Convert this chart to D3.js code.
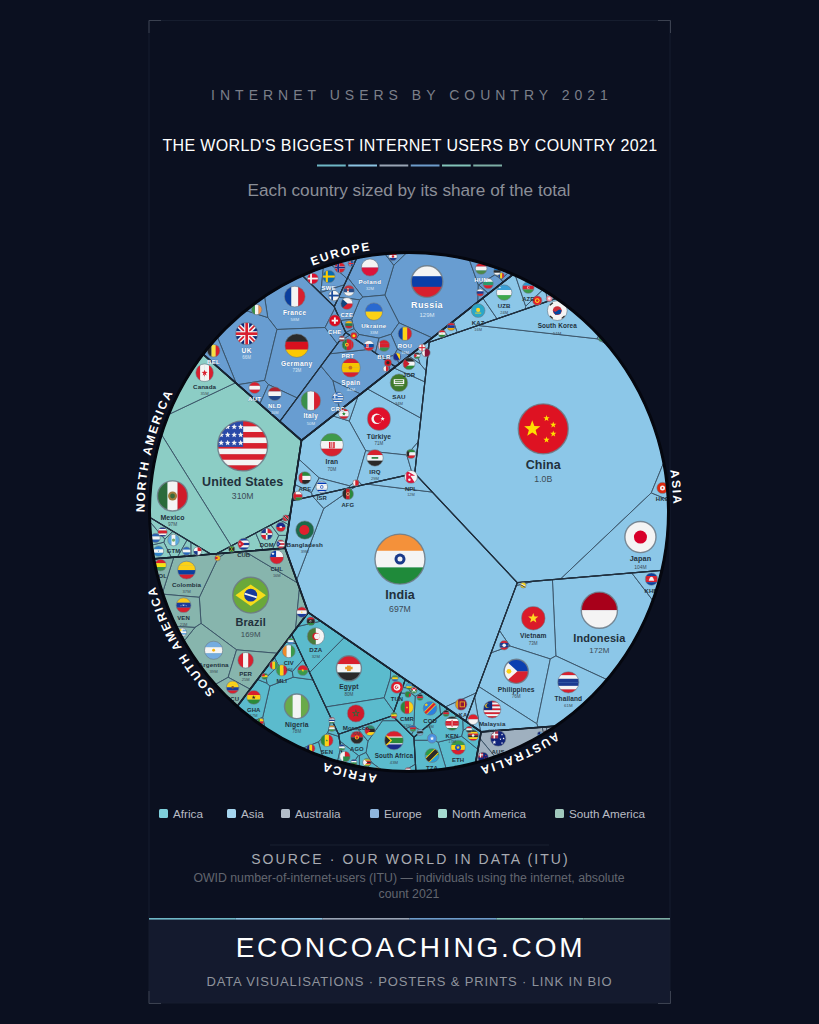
<!DOCTYPE html>
<html><head><meta charset="utf-8">
<script src="https://cdn.jsdelivr.net/npm/d3@7/dist/d3.min.js"></script>
<style>html,body{margin:0;padding:0;background:#0b1020}svg{display:block}text{font-family:"Liberation Sans",Arial,sans-serif}</style>
</head><body><svg id="c" width="819" height="1024"></svg>
<script>
// ---------- DATA ----------
const continents = ['Africa','Asia','Australia','Europe','North America','South America'];
const continentFills = ['#5bbbcd','#8cc7e8','#9fb0bf','#689dd1','#8ccdc5','#87b5ad'];
const legendFills = ['#7fd0dc','#a6d6ef','#b3bdc9','#8fb6de','#a5dad0','#a0c8bc'];
const ruleColors = ['#6fb7c6','#8cc3e2','#9aa5b5','#6e9ccb','#83c4b9','#7eaea5'];

const africaLabels = ['Nigeria','Egypt','DZA','Morocco','South Africa','ETH','TZA','KEN','COD','CMR','TUN','GHA','CIV','MLI','','SEN','AGO','','','','','','','','','','','','','','','','','','','','','','','','','','',''];
const africaValues = [78,80,32,32,43,20,18,17,16,13,9,17,12,7,5,10,11,6,4,3,5,5,3,3,1,3,1,1,1,1,1,1,1,1,1,1,1,1,1,1,1,1,1,1];
const africaFlags  = ['ng','eg','dz','ma','za','et','tz','ke','cd','cm','tn','gh','ci','ml','bf','sn','ao','ug','so','ly','mz','mg','zw','td','ne','gn','sl','tg','bj','ga','rw','bi','zm','mw','cg','na','bw','ss','sd','gm','cf','km','lr','ls'];
const africaGroups = [0,1,1,1,3,4,4,4,2,2,1,0,0,0,0,0,3,4,4,1,3,3,3,0,0,0,0,0,0,1,2,2,2,2,3,2,2,2,4,0,3,3,3,0];
const africaSeeds  = [[297,705],[349,667],[316,635],[356,712],[394,739],[458,746],[432,754],[452,722],[430,707],[407,706],[397,686],[254,696],[289,650],[282,669],[303,669],[327,739],[357,736],[473,734],[432,737],[311,620],[370,729],[345,755],[367,761],[311,747],[332,727],[274,664],[291,640],[265,675],[261,720],[395,677],[409,685],[414,689],[408,693],[420,696],[394,714],[413,727],[420,731],[446,712],[469,728],[332,719],[354,761],[377,769],[408,769],[342,746]];
const africaGroupSeeds = [[73.5,799.5],[345,672],[420.7,698.9],[371.3,748.3],[457.9,743.4]];

const asiaLabels = ['China','India','Indonesia','Japan','Vietnam','Philippines','Thailand','Malaysia','','KHM','HKG','','LKA','','Bangladesh','Türkiye','Iran','IRQ','SAU','JOR','ARE','ISR','','AFG','NPL','','','','KAZ','UZB','AZE','','','South Korea','','','','','',''];
const asiaValues = [1030,697,172,104,73,76,61,33,4,10,7,0.5,8,5,39,71,70,29,34,9,10,8,4,7,12,4,5,1,16,24,8,4,1,51,2,2.5,3,2,1,0.5];
const asiaFlags  = ['cn','in','id','jp','vn','ph','th','my','la','kh','hk','bn','lk','sg','bd','tr','ir','iq','sa','jo','ae','il','om','af','np','kw','lb','bh','kz','uz','az','kg','mn','kr','tj','am','qa','ge','ps','mo'];
const asiaGroups = [2,1,3,2,3,3,3,3,3,3,2,3,1,3,1,0,0,0,0,0,0,0,0,1,1,0,0,0,4,4,4,4,4,2,4,4,0,0,0,2];
const asiaSeeds  = [[543,428],[400,558],[599,609],[640,536],[533,617],[516,670],[568,681],[492,708],[504,644],[651,578],[662,487],[523,584],[461,703],[473,718],[305,529],[379,418],[332,444],[375,457],[399,382],[409,363],[305,477],[322,486],[298,495],[348,493],[411,476],[411,453],[344,413],[356,482],[478,310],[504,292],[528,287],[537,300],[549,298],[557,310],[442,333],[451,326],[426,352],[422,347],[417,355],[601,338]];
const asiaGroupSeeds = [[361.2,408],[399.6,580.5],[560,430],[578.5,647.3],[494.6,241]];

const australiaLabels = ['AUS','','',''];
const australiaValues = [24,5,0.5,0.5];
const australiaFlags  = ['au','nz','fj','pg'];
const australiaGroups = [0,0,0,0];
const australiaSeeds  = [[498,737],[483,756],[540,733],[546,732]];
const australiaGroupSeeds = [[498,745]];

const europeLabels = ['Russia','Poland','France','UK','Germany','Italy','Spain','Ukraine','ROU','BEL','','AUT','NLD','CHE','','SWE','','','','CZE','','PRT','','BLR','GRC','HUN','','','','','','','','','','',''];
const europeValues = [129,32,58,66,73,50,44,33,16,11,5,8,16,8,6,10,5,5,6,9,2.5,8,5,8,8,8,5,0.4,3,2,1,2,0.6,1.5,2,2.5,0.6];
const europeFlags  = ['ru','pl','fr','gb','de','it','es','ua','ro','be','ie','at','nl','ch','dk','se','no','fi','rs','cz','lt','pt','sk','by','gr','hu','bg','is','hr','si','md','ee','lv','mk','al','ba','mt'];
const europeGroups = [2,2,0,0,0,3,3,2,2,0,0,0,0,0,1,1,1,1,2,2,2,3,2,2,3,2,2,1,2,2,2,2,3,2,2,2,3];
const europeSeeds  = [[427,281],[370,267],[295,296],[247,333],[297,345],[311,400],[351,367],[374,311],[405,333],[214,350],[257,309],[255,387],[275,393],[335,320],[313,278],[329,276],[340,267],[334,295],[349,290],[347,303],[349,324],[348,344],[369,345],[384,345],[338,397],[481,268],[488,283],[351,263],[393,256],[480,292],[501,275],[497,271],[342,338],[354,335],[388,362],[397,356],[386,368]];
const europeGroupSeeds = [[265,345],[351.8,256.5],[406.1,281.7],[329.2,392.6]];

const northAmericaLabels = ['United States','Mexico','Canada','CUB','DOM','','','','GTM','','','','','',''];
const northAmericaValues = [310,97,35,8,8,4,3,4,8,5,4,3,3,1,1];
const northAmericaFlags  = ['us','mx','ca','cu','do','ht','pr','cr','gt','hn','sv','ni','pa','jm','tt'];
const northAmericaGroups = [0,0,0,2,2,2,2,1,1,1,1,1,1,2,2];
const northAmericaSeeds  = [[243,445],[173,495],[205,372],[244,543],[267,533],[281,526],[281,543],[163,531],[174,539],[159,550],[156,537],[187,550],[198,550],[232,548],[286,517]];
const northAmericaGroupSeeds = [[215,450],[163.6,535.7],[261.7,538.5]];

const southAmericaLabels = ['Brazil','Colombia','VEN','Argentina','PER','CHL','ECU','BOL','','',''];
const southAmericaValues = [169,37,21,39,25,16,11,8,5,3,0.5];
const southAmericaFlags  = ['br','co','ve','ar','pe','cl','ec','bo','py','uy','gy'];
const southAmericaGroups = [0,0,0,0,0,0,0,0,0,0,0];
const southAmericaSeeds  = [[251,594],[187,569],[184,604],[214,649],[246,659],[277,556],[233,686],[161,564],[302,611],[183,631],[218,557]];
const southAmericaGroupSeeds = [[240,620]];

const flagSets = [
 [africaLabels,africaValues,africaFlags,africaSeeds,africaGroups,africaGroupSeeds],
 [asiaLabels,asiaValues,asiaFlags,asiaSeeds,asiaGroups,asiaGroupSeeds],
 [australiaLabels,australiaValues,australiaFlags,australiaSeeds,australiaGroups,australiaGroupSeeds],
 [europeLabels,europeValues,europeFlags,europeSeeds,europeGroups,europeGroupSeeds],
 [northAmericaLabels,northAmericaValues,northAmericaFlags,northAmericaSeeds,northAmericaGroups,northAmericaGroupSeeds],
 [southAmericaLabels,southAmericaValues,southAmericaFlags,southAmericaSeeds,southAmericaGroups,southAmericaGroupSeeds]];

// Layout seeds of the continent level (power-diagram sites)
const continentSeeds = [[332,639],[428,500],[440,658],[322,365],[230,470],[238,568]];

// ---------- FLAGS ----------
const W='#f4f4f4',R='#d8202e',G='#3a8f4a',B='#0b3f9e',Y='#fcd116',K='#2a2a2a';
const flagStripes = {
 ru:[`h`,W,'#0a3fa8',R],pl:['h',W,'#dc143c'],fr:['v',B,W,R],gb:['h','#0a2a7a'],de:['h',K,'#d8101e','#fdc800'],it:['v',G,W,R],es:['h',R,'#f5c400','#f5c400',R],ua:['h','#2a6ad0',Y],ro:['v',B,Y,R],be:['v',K,'#fae042',R],ie:['v',G,W,'#f0954a'],at:['h',R,W,R],nl:['h','#b0222e',W,'#21468b'],ch:['h','#dc0a20'],dk:['h','#dc102e'],se:['h','#0a6ab0'],no:['h',R],fi:['h',W],rs:['h','#c6303c','#2a4f8a',W],cz:['h',W,R],lt:['h','#fdb913','#2a7a4a','#c1272d'],pt:['v','#2a7a3a','#2a7a3a',R,R,R],sk:['h',W,'#0b4ea2',R],by:['h',R,R,G],gr:['h','#2a6ac0',W,'#2a6ac0',W,'#2a6ac0',W,'#2a6ac0',W,'#2a6ac0'],hu:['h',R,W,'#4a8a4a'],bg:['h',W,'#2a9a6a',R],is:['h','#0a4aa0'],hr:['h',R,W,'#1a3a90'],si:['h',W,'#1a3a90',R],md:['v','#1a4aa0',Y,R],ee:['h','#0a72ce',K,W],lv:['h','#9e3039',W,'#9e3039'],mk:['h',R],al:['h','#d8101e'],ba:['h','#1a2a90'],mt:['v',W,R],
 cn:['h','#de1222'],in:['h','#f4913a',W,'#1f8a3a'],id:['h','#a8001a',W],jp:['h',W],vn:['h','#da1a2a'],ph:['h','#0b3fb0',R],th:['h',R,W,'#1a3a90','#1a3a90',W,R],my:['h',R,W,R,W,R,W,R,W,R],la:['h',R,'#1a3a90','#1a3a90',R],kh:['h','#0b3f9e',R,R,'#0b3f9e'],hk:['h','#de2910'],bn:['h','#f7d51d'],lk:['v','#e09a1a','#8d153a','#8d153a','#8d153a'],sg:['h','#e0202e',W],bd:['h','#1c6a4a'],tr:['h','#e0102a'],ir:['h','#3f9a4a',W,R],iq:['h',R,W,K],sa:['h','#3f7a2a'],jo:['h',K,W,'#2a8a3a'],ae:['h','#2a8a3a',W,K],il:['h',W,'#0038b8',W,W,W,W,'#0038b8',W],om:['h',W,R,'#2a8a3a'],af:['v',K,'#c8202a','#2a8a3a'],np:['h',W],kw:['h','#2a8a3a',W,R],lb:['h',R,W,W,R],bh:['h',R],kz:['h','#2aa7c8'],uz:['h','#3aa0d8',W,'#3fa84a'],az:['h','#2a9ad0',R,'#3a9a4a'],kg:['h','#e0202a'],mn:['h','#f08a9a'],kr:['h',W],tj:['h',R,W,'#2a8a3a'],am:['h',R,'#1a3aa0','#f2a800'],qa:['h','#8a1538'],ge:['h',W],ps:['h',K,W,G],mo:['h','#3a8a5a'],
 au:['h','#10237a'],nz:['h','#10237a'],fj:['h','#6aa8d8'],pg:['h',R,K],
 us:['h',R,W,R,W,R,W,R,W,R],mx:['v','#2a6a3a',W,'#d01a2a'],ca:['v',R,W,W,R],cu:['h','#1a3a9a',W,'#1a3a9a',W,'#1a3a9a'],do:['h','#1a3a8a'],ht:['h','#1a2a8a',R],pr:['h',R,W,R,W,R],cr:['h','#1a2a8a',W,R,R,W,'#1a2a8a'],gt:['v','#5aa8e0',W,'#5aa8e0'],hn:['h','#2a80c8',W,'#2a80c8'],sv:['h','#2a60b0',W,'#2a60b0'],ni:['h','#2a68c0',W,'#2a68c0'],pa:['h',W],jm:['h','#2a8a3a'],tt:['h',R],
 br:['h','#6aa83a'],co:['h','#fcd116','#fcd116','#0b3f9e',R],ve:['h','#f7c81a','#1a3a9a',R],ar:['h','#74acdf',W,'#74acdf'],pe:['v',R,W,R],cl:['h',W,R],ec:['h','#fcd116','#fcd116','#1a3a9a',R],bo:['h',R,'#f7e214',G],py:['h',R,W,'#1a3a9a'],uy:['h',W,'#6aa8e0',W,'#6aa8e0',W],gy:['h','#e8a020'],
 ng:['v','#6aaa4a',W,'#6aaa4a'],eg:['h','#d8202e',W,K],dz:['v','#4a7a3a',W],ma:['h','#d01a2a'],za:['h','#d8202e','#2a8a3a','#1a2a8a'],et:['h','#3a9a4a','#f7d618',R],tz:['h','#2a9a4a','#2aa0d8'],ke:['h',K,W,R,R,W,'#2a7a3a'],cd:['h','#2a80e0'],cm:['v','#2a8a3a',R,'#fcd116'],tn:['h','#e01a2a'],gh:['h',R,'#fcd116','#2a8a3a'],ci:['v','#f08a2a',W,'#3a9a4a'],ml:['v','#3a9a4a','#fcd116',R],bf:['h',R,'#3a9a4a'],sn:['v','#2a8a3a','#fcd116',R],ao:['h',R,K],ug:['h',K,'#fcd116',R,K,'#fcd116',R],so:['h','#4a90e0'],ly:['h',K],mz:['h','#2a8a6a',K,'#fcd116'],mg:['v',W,R],zw:['h','#3a8a3a','#fcd116',R,K,R,'#fcd116','#3a8a3a'],td:['v','#1a2a8a','#fcd116',R],ne:['h','#e88a2a',W,'#3a9a4a'],gn:['v',R,'#fcd116','#3a9a4a'],sl:['h','#3aaa4a',W,'#3a80d0'],tg:['h','#2a8a3a','#fcd116','#2a8a3a'],bj:['h','#fcd116',R],ga:['h','#3a9a4a','#fcd116','#2a60b0'],rw:['h','#3aa0d8','#3aa0d8','#fcd116','#2a8a3a'],bi:['h',R,'#3a9a4a'],zm:['h','#2a8a3a'],mw:['h',K,R,'#2a8a3a'],cg:['h','#3a9a4a','#fcd116',R],na:['h','#2a60b0',R,'#3a9a4a'],bw:['h','#7ab0d8',K,'#7ab0d8'],ss:['h',K,R,'#2a8a3a'],sd:['h',R,W,K],gm:['h',R,W,'#1a3a90',W,'#3a8a3a'],cf:['h','#1a3a90',W,G,Y],km:['h',Y,W,R,'#1a3a90'],lr:['h',R,W,R,W,R],ls:['h','#1a3a90',W,G]
};
const nordic=c=>[['r',-.5,-1,.34,2,c],['r',-1,-.17,2,.34,c]];
const flagEmblems = {
 gb:[['l',-1,-1,1,1,.42,W],['l',-1,1,1,-1,.42,W],['l',-1,-1,1,1,.16,R],['l',-1,1,1,-1,.16,R],['r',-.22,-1,.44,2,W],['r',-1,-.22,2,.44,W],['r',-.12,-1,.24,2,R],['r',-1,-.12,2,.24,R]],
 es:[['c',-.05,0,.2,'#c9701a']],ch:[['r',-.16,-.55,.32,1.1,W],['r',-.55,-.16,1.1,.32,W]],dk:nordic(W),se:nordic('#fecc00'),no:[['r',-.55,-1,.44,2,W],['r',-1,-.22,2,.44,W],...nordic('#1a2a80')],fi:nordic('#1a4a9a'),is:[['r',-.55,-1,.44,2,W],['r',-1,-.22,2,.44,W],...nordic(R)],
 rs:[['r',-.35,-.4,.36,.8,'#e8e0d0'],['c',-.17,-.1,.2,'#c6303c']],cz:[['p','-1,-1 .1,0 -1,1','#11457e']],pt:[['c',-.18,0,.32,'#f5d020'],['c',-.18,0,.16,R]],sk:[['r',-.55,-.4,.5,.8,W],['r',-.5,-.32,.4,.62,R],['r',-.34,-.26,.08,.45,W]],by:[['r',-1,-1,.32,2,W],['r',-.9,-1,.1,2,R]],gr:[['r',-1,-1,.95,1.1,'#2a6ac0'],['r',-.63,-1,.2,1.1,W],['r',-1,-.55,.95,.2,W]],mk:[['c',0,0,.45,Y]],al:[['c',0,0,.45,K]],ba:[['p','-.3,-1 .8,-1 .8,1',Y]],hr:[['c',0,0,.3,R]],
 cn:[['s',-.44,0,.34,'#ffde00'],['s',.13,-.42,.13,'#ffde00'],['s',.4,-.16,.13,'#ffde00'],['s',.4,.2,.13,'#ffde00'],['s',.13,.44,.13,'#ffde00']],
 in:[['c',0,0,.22,'#1a3a8a'],['c',0,0,.1,W]],jp:[['c',0,0,.42,'#d8002a']],vn:[['s',0,0,.45,'#ffd820']],ph:[['p','-1,-1 .1,0 -1,1',W],['c',-.6,0,.2,'#fcd116']],my:[['r',-1,-1,1,1.05,'#0b2a80'],['c',-.55,-.42,.26,'#fcd116'],['c',-.45,-.42,.22,'#0b2a80']],la:[['c',0,0,.38,W]],kh:[['p','-.45,.28 -.25,-.25 0,-.4 .25,-.25 .45,.28',W]],hk:[['c',0,0,.45,W],['c',0,0,.15,'#de2910']],bn:[['l',-1,-.5,1,.6,.4,W],['l',-1,-.2,1,.9,.3,K]],lk:[['r',-.25,-.5,.9,1,'#f2b01a'],['r',-.1,-.35,.6,.7,'#8d153a']],bd:[['c',-.05,0,.55,'#e0202e']],tr:[['c',-.2,0,.45,W],['c',-.08,0,.36,'#e0102a'],['s',.32,0,.2,W]],ir:[['r',-.25,-.25,.5,.55,R],['r',-.12,-.25,.24,.5,W],['r',-.04,-.25,.08,.5,R]],iq:[['r',-.4,-.1,.8,.2,'#2a7a3a']],sa:[['r',-.6,-.4,1.2,.55,W],['r',-.45,-.3,.9,.12,'#3f7a2a'],['r',-.45,-.1,.9,.1,'#3f7a2a'],['r',-.5,.3,1,.08,W]],jo:[['p','-1,-1 .1,0 -1,1','#c8202e']],ae:[['r',-1,-1,.6,2,R]],il:[['c',0,0,.28,'#0038b8'],['c',0,0,.17,W]],om:[['r',-1,-1,.55,2,R]],af:[['c',0,0,.3,'#f0e0a0'],['c',0,0,.2,'#8a3a2a']],np:[['p','-.75,-1 .65,-.2 -.1,-.2 .65,1 -.75,1','#dc143c'],['c',-.25,-.35,.15,W],['c',-.25,.45,.2,W]],kw:[['p','-1,-1 -.4,-.35 -.4,.35 -1,1',K]],lb:[['s',0,0,.4,'#2a8a3a']],bh:[['r',-1,-1,.8,2,W]],kz:[['c',0,-.1,.3,'#ffd820'],['r',-.45,.3,.9,.12,'#ffd820']],uz:[['c',-.55,-.65,.1,W]],az:[['c',.02,0,.22,W],['c',.08,0,.18,R]],kg:[['c',0,0,.5,'#ffd820'],['c',0,0,.28,'#e0202a']],mn:[['c',0,0,.4,W]],kr:[['c',0,0,.45,'#cd2e3a'],['p','-.45,0 -.2,.15 .2,-.1 .45,0 .3,.35 -.2,.42','#0047a0'],['l',-.75,-.55,-.45,-.8,.14,K],['l',.75,-.55,.45,-.8,.14,K],['l',-.75,.55,-.45,.8,.14,K],['l',.75,.55,.45,.8,.14,K]],qa:[['r',-1,-1,.7,2,W]],ge:[['r',-.15,-1,.3,2,R],['r',-1,-.15,2,.3,R]],tj:[['c',0,0,.14,Y]],ps:[['p','-1,-1 0,0 -1,1',R]],
 au:[['r',-1,-1,1,1,'#b0344a'],['r',-.6,-1,.2,1,W],['r',-1,-.6,1,.2,W],['s',-.5,.5,.28,W],['s',.5,-.5,.16,W],['s',.7,0,.16,W],['s',.3,.1,.14,W],['s',.5,.6,.16,W]],nz:[['r',-1,-1,1,1,'#b0344a'],['r',-.6,-1,.2,1,W],['r',-1,-.6,1,.2,W],['s',.5,-.4,.18,R],['s',.7,.1,.18,R],['s',.3,.1,.18,R],['s',.5,.6,.18,R]],fj:[['r',-1,-1,1,1,'#10237a']],pg:[['p','-1,-1 1,-1 1,1',K],['c',.3,-.3,.3,Y]],
 mx:[['c',0,0,.3,'#a07a3a'],['c',0,0,.16,'#3a6a3a']],ca:[['s',0,.02,.36,R],['r',-.04,.2,.08,.2,R]],cu:[['p','-1,-1 .1,0 -1,1',R],['s',-.65,0,.22,W]],do:[['r',0,-1,1,1,R],['r',-1,0,1,1,R],['r',-.15,-1,.3,2,W],['r',-1,-.15,2,.3,W],['c',0,0,.16,'#3a8a4a']],ht:[['r',-.25,-.18,.5,.36,W]],pr:[['p','-1,-1 0,0 -1,1','#1a3a9a'],['s',-.65,0,.2,W]],gt:[['c',0,0,.28,'#7aa86a']],hn:[['s',0,0,.18,'#2a80c8']],pa:[['r',0,-1,1,1,R],['r',-1,0,1,1,'#1a3a8a']],jm:[['l',-1,-1,1,1,.3,Y],['l',-1,1,1,-1,.3,Y],['p','-1,-1 0,0 -1,1',K],['p','1,-1 0,0 1,1',K]],tt:[['l',-1,-1,1,1,.55,W],['l',-1,-1,1,1,.36,K]],
 us:[['r',-1,-1,1.02,1.04,'#2a4aa8']],
 br:[['p','-.85,0 0,-.6 .85,0 0,.6','#f7dc1a'],['c',0,0,.36,'#1a3a9a'],['l',-.34,-.08,.34,.12,.1,W]],ve:[['c',0,0,.08,W],['c',-.35,.08,.06,W],['c',.35,.08,.06,W],['c',-.18,-.02,.06,W],['c',.18,-.02,.06,W]],ar:[['c',0,0,.16,'#f6b40e']],cl:[['r',-1,-1,.9,1,'#0a3fa8'],['s',-.55,-.5,.26,W]],ec:[['c',0,0,.22,'#8a5a2a']],py:[['c',0,0,.12,Y]],uy:[['r',-1,-1,1,1,W],['c',-.5,-.5,.28,'#fcd116']],gy:[['p','-1,-1 1,0 -1,1',Y],['p','-1,-.7 .4,0 -1,.7','#c8202e']],
 eg:[['r',-.15,-.22,.3,.44,'#e89a2a'],['r',-.3,-.12,.6,.2,'#e89a2a']],dz:[['c',.02,0,.42,'#d01a2a'],['c',.14,0,.33,W]],ma:[['s',0,0,.5,'#2a6a3a'],['s',0,0,.26,'#d01a2a']],za:[['r',-1,-.42,2,.12,W],['r',-1,.3,2,.12,W],['p','-1,-.8 -.2,0 -1,.8','#fcd116'],['p','-1,-.6 -.4,0 -1,.6',K]],et:[['c',0,0,.42,'#1a50c0'],['s',0,0,.3,'#fcd116']],tz:[['p','-1,1 -1,.4 .4,-1 1,-1 1,-.4 -.4,1','#fcd116'],['l',-1,1,1,-1,.6,K]],ke:[['p','0,-.55 .3,0 0,.55 -.3,0',R],['r',-.05,-.4,.1,.8,W]],cd:[['l',-1,1,1,-1,.55,'#fcd116'],['l',-1,1,1,-1,.35,R],['s',-.55,-.5,.3,'#fcd116']],cm:[['s',0,0,.22,'#fcd116']],tn:[['c',0,0,.55,W],['c',-.05,0,.3,'#e01a2a'],['c',.05,0,.24,W],['s',.1,0,.18,'#e01a2a']],gh:[['s',0,0,.3,K]],bf:[['s',0,0,.32,'#fcd116']],sn:[['s',0,0,.2,'#2a8a3a']],ao:[['c',0,0,.32,'#fcd116'],['c',0,0,.2,R]],ug:[['c',0,0,.24,W]],so:[['s',0,0,.5,W]],ly:[['r',-1,-1,2,.55,R],['r',-1,.45,2,.55,'#2a8a3a'],['c',-.06,0,.25,W],['c',.03,0,.2,K]],mz:[['p','-1,-1 .1,0 -1,1',R]],mg:[['r',-.33,0,1.33,1,'#2a8a4a']],zw:[['p','-1,-1 .1,0 -1,1',W]],tg:[['r',-1,-1,1,1,R]],bj:[['r',-1,-1,.7,2,'#2a8a3a']],bi:[['l',-1,-1,1,1,.25,W],['l',-1,1,1,-1,.25,W],['c',0,0,.35,W]],zm:[['r',.3,-.2,.7,1.2,R]],
};
// the US canton's stars
d3.range(3).forEach(i=>d3.range(4).forEach(j=>flagEmblems.us.push(['s',-.86+j*.26,-.76+i*.32,.12,W])));

// ---------- LAYOUT ----------
const cx=409, cy=512, Rad=259.5;
const sx=d3.scaleLinear([150,668],[cx-Rad,cx+Rad]), sy=d3.scaleLinear([252,770],[cy-Rad,cy+Rad]);
const svg=d3.select('#c');
const defs=svg.append('defs');
const disc=d3.range(180).map(i=>{const a=i/180*2*Math.PI;return [cx+Rad*Math.cos(a),cy+Rad*Math.sin(a)]});

function clip(poly,a,b,c){ const out=[]; const n=poly.length;
  for(let i=0;i<n;i++){ const p=poly[i],q=poly[(i+1)%n]; const dp=a*p[0]+b*p[1]-c, dq=a*q[0]+b*q[1]-c;
    if(dp<=0) out.push(p);
    if((dp<0&&dq>0)||(dp>0&&dq<0)){const t=dp/(dp-dq); out.push([p[0]+t*(q[0]-p[0]),p[1]+t*(q[1]-p[1])]);}
  } return out; }
function cells(sites,w,bound){ return sites.map((s,i)=>{ let poly=bound;
    for(let j=0;j<sites.length&&poly.length>2;j++){ if(j===i)continue; const t=sites[j];
      const a=2*(t[0]-s[0]),b=2*(t[1]-s[1]),c=t[0]*t[0]+t[1]*t[1]-s[0]*s[0]-s[1]*s[1]-w[j]+w[i];
      poly=clip(poly,a,b,c);}
    return poly.length>2?poly:[];});}
const area=p=>p.length>2?Math.abs(d3.polygonArea(p)):0;
function solve(sites,values,bound,iters){ if(sites.length===1) return [bound];
  const total=d3.sum(values),A=area(bound); const T=values.map(v=>v/total*A);
  const w=T.map(t=>t/Math.PI); let res;
  for(let k=0;k<iters;k++){ res=cells(sites,w,bound); res.forEach((p,i)=>{w[i]+=0.2*(T[i]-area(p));}); }
  return cells(sites,w,bound);}

const contTotals=flagSets.map(s=>d3.sum(s[1]));
const contSites=continentSeeds.map(([x,y])=>[sx(x),sy(y)]);
const contPolys=solve(contSites,contTotals,disc,800);

const flagR=d3.scaleLinear([0.4,5,10,33,60,80,100,129,170,310],[2.8,5.2,6.2,8.7,10.5,12.5,15.5,15.8,18,25]).clamp(true);
const nameFs=d3.scaleLinear([1,100,129,172,310],[5.8,7,9,11,12.5]).clamp(true);
const valFs=d3.scaleLinear([1,100,129,172,310],[3.8,4.8,6,8,8.7]).clamp(true);
const fmt=v=>v>=1000?(v/1000).toFixed(1)+'B':Math.round(v)+'M';

const items=[], groupPolys=[];
flagSets.forEach((set,ci)=>{ const [labels,values,flags,seeds,groups,groupSeeds]=set;
  const gTotals=groupSeeds.map((s,g)=>d3.sum(values.filter((v,i)=>groups[i]===g)));
  const gPolys=solve(groupSeeds.map(([x,y])=>[sx(x),sy(y)]),gTotals,contPolys[ci],1600);
  gPolys.forEach((gp,g)=>{ if(groupSeeds.length>1) groupPolys.push(gp);
    const idx=d3.range(values.length).filter(i=>groups[i]===g);
    const sites=idx.map(i=>{const v=values[i];const fs=nameFs(v);const off=labels[i]?(fs*1.22+(v>=12?valFs(v)+fs*.3:0))/2:0;return [sx(seeds[i][0]),sy(seeds[i][1])+off];});
    const polys=solve(sites,idx.map(i=>values[i]),gp,800);
    polys.forEach((p,k)=>{const i=idx[k];items.push({ci,poly:p,label:labels[i],v:values[i],flag:flags[i],x:sx(seeds[i][0]),y:sy(seeds[i][1])});});
  });
});

// ---------- DRAW ----------
defs.append('clipPath').attr('id','disc').append('circle').attr('cx',cx).attr('cy',cy).attr('r',Rad);
const bg=svg.append('g');
bg.append('rect').attr('width',819).attr('height',1024).attr('fill','#0b1020');
bg.append('rect').attr('x',149).attr('y',919).attr('width',521).attr('height',84).attr('fill','#141a2e');
bg.append('rect').attr('x',149).attr('y',20.5).attr('width',521).attr('height',982.5).attr('fill','none').attr('stroke','#161d2e').attr('stroke-width',1);
const cornerPaths=['M149,33V20.5H161','M658,20.5H670.5V33','M149,991V1003.5H161','M658,1003.5H670.5V991'];
bg.selectAll('path.corner').data(cornerPaths).join('path').attr('class','corner').attr('d',d=>d).attr('fill','none').attr('stroke','#3b4150').attr('stroke-width',1);
const ruleScale=d3.scaleBand().domain(d3.range(6)).range([149,670]);
bg.selectAll('rect.pl').data(ruleColors).join('rect').attr('class','pl').attr('x',(d,i)=>ruleScale(i)).attr('y',918).attr('width',ruleScale.bandwidth()).attr('height',1.6).attr('fill',d=>d);
const headScale=d3.scaleBand().domain(d3.range(6)).range([317,502]).paddingInner(.08);
bg.selectAll('rect.hd').data(ruleColors).join('rect').attr('class','hd').attr('x',(d,i)=>headScale(i)).attr('y',164.5).attr('width',headScale.bandwidth()).attr('height',2).attr('fill',d=>d);

const TX=(x,y,s,fs,col,ls)=>{const t=svg.append('text').attr('x',x).attr('y',y).attr('text-anchor','middle').attr('font-size',fs).attr('fill',col).text(s);if(ls)t.attr('letter-spacing',ls);return t;};
TX(412,100,'INTERNET USERS BY COUNTRY 2021',14,'#7b7f89',5);
TX(410,151,"THE WORLD'S BIGGEST INTERNET USERS BY COUNTRY 2021",16,'#ffffff',0.36);
TX(409,196,'Each country sized by its share of the total',17.2,'#8b8f98',0);
TX(410.5,864,'SOURCE · OUR WORLD IN DATA (ITU)',14,'#a8abb2',2.1);
TX(409,882,'OWID number-of-internet-users (ITU) — individuals using the internet, absolute',12.3,'#62666f',0);
TX(409,898,'count 2021',12.3,'#62666f',0);
TX(410.5,957,'ECONCOACHING.COM',28,'#ffffff',2.8);
TX(409.5,986,'DATA VISUALISATIONS · POSTERS & PRINTS · LINK IN BIO',13,'#8f939c',.85);
bg.append('line').attr('x1',270).attr('x2',549).attr('y1',845).attr('y2',845).attr('stroke','#1a2131');

// legend
const legendX=[159,227,281,370,438,555];
const lg=svg.append('g').selectAll('g').data(continents).join('g').attr('transform',(d,i)=>`translate(${legendX[i]},809)`);
lg.append('rect').attr('width',9).attr('height',9).attr('rx',1.5).attr('fill',(d,i)=>legendFills[i]);
lg.append('text').attr('x',14).attr('y',9).attr('font-size',11.7).attr('fill','#b9bcc4').text(d=>d);

// cells
const line=d3.line().curve(d3.curveLinearClosed);
const map=svg.append('g').attr('clip-path','url(#disc)');
map.append('g').selectAll('path').data(items).join('path').attr('d',d=>d.poly.length?line(d.poly):null)
  .attr('fill',d=>continentFills[d.ci]).attr('stroke','#3a5266').attr('stroke-width',.9).attr('stroke-linejoin','round');
map.append('g').selectAll('path').data(groupPolys.filter(p=>p.length)).join('path').attr('d',d=>line(d)).attr('fill','none').attr('stroke','#20303f').attr('stroke-width',1.2).attr('stroke-linejoin','round');
map.append('g').selectAll('path').data(contPolys).join('path').attr('d',d=>line(d)).attr('fill','none').attr('stroke','#182432').attr('stroke-width',1.7).attr('stroke-linejoin','round');

// flags
const drawers={
 c:(g,[,x,y,r,f])=>g.append('circle').attr('cx',x).attr('cy',y).attr('r',r).attr('fill',f),
 r:(g,[,x,y,w,h,f])=>g.append('rect').attr('x',x).attr('y',y).attr('width',w).attr('height',h).attr('fill',f),
 p:(g,[,pts,f])=>g.append('polygon').attr('points',pts).attr('fill',f),
 l:(g,[,x1,y1,x2,y2,w,c])=>g.append('line').attr('x1',x1).attr('y1',y1).attr('x2',x2).attr('y2',y2).attr('stroke-width',w).attr('stroke',c),
 s:(g,[,x,y,r,f])=>g.append('polygon').attr('points',d3.range(10).map(i=>{const a=-Math.PI/2+i*Math.PI/5,q=i%2?r*.42:r;return [x+q*Math.cos(a),y+q*Math.sin(a)].join(',')}).join(' ')).attr('fill',f)
};
defs.append('clipPath').attr('id','unit').append('circle').attr('r',1);
const flagG=map.append('g');
items.forEach(d=>{ const r=flagR(d.v);
  const g=flagG.append('g').attr('transform',`translate(${d.x},${d.y}) scale(${r})`);
  const inner=g.append('g').attr('clip-path','url(#unit)');
  const spec=flagStripes[d.flag]||['h','#ccc']; const dir=spec[0],cols=spec.slice(1);
  const band=d3.scaleBand().domain(d3.range(cols.length)).range([-1,1]);
  cols.forEach((c,i)=>{ if(dir==='h') inner.append('rect').attr('x',-1).attr('y',band(i)).attr('width',2).attr('height',band.bandwidth()+.01).attr('fill',c);
    else inner.append('rect').attr('x',band(i)).attr('y',-1).attr('height',2).attr('width',band.bandwidth()+.01).attr('fill',c); });
  (flagEmblems[d.flag]||[]).forEach(e=>drawers[e[0]](inner,e));
  flagG.append('circle').attr('cx',d.x).attr('cy',d.y).attr('r',r).attr('fill','none').attr('stroke','#6c7a86').attr('stroke-opacity',.85).attr('stroke-width',r>12?1.4:.7);
});
// labels
const labG=map.append('g').attr('text-anchor','middle');
items.filter(d=>d.label).forEach(d=>{ const r=flagR(d.v), fs=nameFs(d.v), vf=valFs(d.v), eu=d.ci===3;
  const ny=d.y+r+fs*1.22, col=eu?'#ffffff':'#22313c';
  labG.append('text').attr('x',d.x).attr('y',ny).attr('font-size',fs).attr('font-weight','bold').attr('fill',col).attr('letter-spacing',eu?.4:.1).text(d.label)
     .attr('stroke',eu?'#3f6a9a':null).attr('stroke-width',eu?.35:null).attr('paint-order','stroke');
  if(d.v>=12) labG.append('text').attr('x',d.x).attr('y',ny+vf+fs*.3).attr('font-size',vf).attr('fill',eu?'#dbe7f4':'#3c4b56').text(fmt(d.v));
});
// outline and arc labels
svg.append('circle').attr('cx',cx).attr('cy',cy).attr('r',Rad).attr('fill','none').attr('stroke','#05070f').attr('stroke-width',3);
const arcR=Rad+5;
defs.append('path').attr('id','ring').attr('d',`M${cx},${cy-arcR}A${arcR},${arcR} 0 1 1 ${cx-.01},${cy-arcR}Z`);
defs.append('path').attr('id','ring2').attr('d',`M${cx},${cy+arcR}A${arcR},${arcR} 0 1 1 ${cx+.01},${cy+arcR}Z`);
contPolys.forEach((p,i)=>{ let sxs=0,sys=0;
  for(let a=0;a<720;a++){const t=a/720*2*Math.PI; if(d3.polygonContains(p,[cx+(Rad-1.5)*Math.sin(t),cy-(Rad-1.5)*Math.cos(t)])){sxs+=Math.sin(t);sys+=Math.cos(t);}}
  let ang=Math.atan2(sxs,sys)/(2*Math.PI); if(ang<0)ang+=1;
  const useTop=ang>.25&&ang<.75; const off=useTop?ang:(ang+.5)%1;
  svg.append('text').attr('font-size',12).attr('font-weight','bold').attr('fill','#fff').attr('letter-spacing',1.8).attr('text-anchor','middle')
    .append('textPath').attr('href',useTop?'#ring':'#ring2').attr('startOffset',(off*100)+'%').text(continents[i].toUpperCase());
});
</script></body></html>
